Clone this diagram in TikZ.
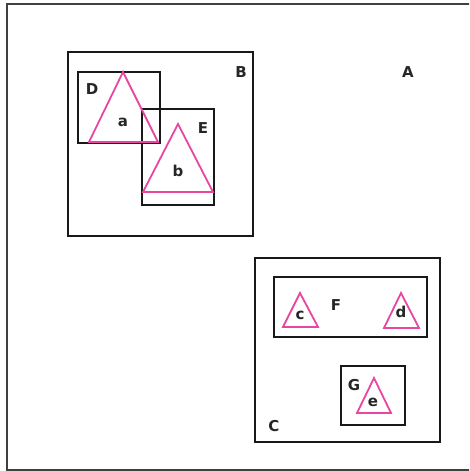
\documentclass[tikz,border=0pt]{standalone}
\usepackage{fontspec}
\setmainfont{DejaVu Sans}
\begin{document}
\begin{tikzpicture}[x=1pt,y=-1pt,
  box/.style={draw=black!90,line width=2.6pt},
  tri/.style={draw=pinkline,line width=1.8pt,line join=miter},
  lbl/.style={font=\fontsize{15}{15}\selectfont\bfseries,inner sep=0pt,text=black!85}]
\definecolor{pinkline}{RGB}{232,70,160}
\useasboundingbox (0,0) rectangle (469,471);
\begin{scope}
\clip (0,0) rectangle (469,471);
% outer A
\draw[box,draw=black!75] (7,4) rectangle (480,470);
% B and children
\draw[box] (68,52) rectangle (253,236);
\draw[box] (78,72) rectangle (160,143);
\draw[box] (142,109) rectangle (214,205);
\draw[tri] (123,72) -- (158,142) -- (89,142) -- cycle;
\draw[tri] (178,124) -- (213,192) -- (143,192) -- cycle;
% C and children
\draw[box] (255,258) rectangle (440,442);
\draw[box] (274,277) rectangle (427,337);
\draw[box] (341,366) rectangle (405,425);
\draw[tri] (300,293) -- (318,327) -- (283,327) -- cycle;
\draw[tri] (401,293) -- (419,328) -- (384,328) -- cycle;
\draw[tri] (374,378) -- (391,413) -- (357,413) -- cycle;
\end{scope}
% labels
\node[lbl] (lA) at (408,72) {A};
\node[lbl] (lB) at (241,72) {B};
\node[lbl] (lC) at (274,426) {C};
\node[lbl] (lD) at (92,89) {D};
\node[lbl] (lE) at (203,128) {E};
\node[lbl] (lF) at (336,305) {F};
\node[lbl] (lG) at (354,385) {G};
\node[lbl] (la) at (123,122) {a};
\node[lbl] (lb) at (178,171) {b};
\node[lbl] (lc) at (300,315) {c};
\node[lbl] (ld) at (401,312) {d};
\node[lbl] (le) at (373,402) {e};
\end{tikzpicture}
\end{document}
